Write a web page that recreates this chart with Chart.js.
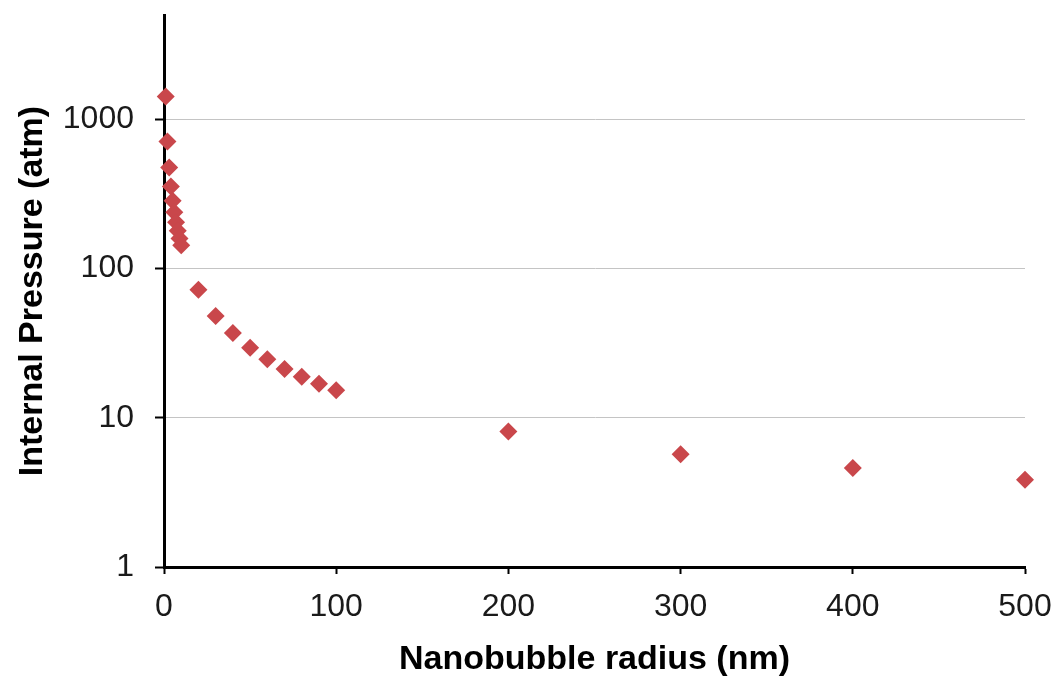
<!DOCTYPE html>
<html>
<head>
<meta charset="utf-8">
<script src="https://cdn.jsdelivr.net/npm/chart.js@4/dist/chart.umd.min.js"></script>
<style>
  html, body { margin: 0; padding: 0; background: #fff; }
  #wrap { width: 1059px; height: 677px; }
</style>
</head>
<body>
<div id="wrap"><canvas id="bubbleChart"></canvas></div>
<script>
// Nanobubble radius (nm) and internal pressure (atm)
const radius = [1, 2, 3, 4, 5, 6, 7, 8, 9, 10, 20, 30, 40, 50, 60, 70, 80, 90, 100, 200, 300, 400, 500];
const pressure = [1420, 710, 475, 355, 285, 238, 204, 179, 159, 143, 72, 48, 37, 29.5, 24.7, 21.2, 18.8, 16.9, 15.3, 8.1, 5.7, 4.6, 3.85];
const yTicks = [1, 10, 100, 1000];

const points = radius.map((r, i) => ({ x: r, y: pressure[i] }));
const fontFamily = '"Liberation Sans", Arial, Helvetica, sans-serif';

const ctx = document.getElementById('bubbleChart').getContext('2d');

const bubbleChart = new Chart(ctx, {
    type: 'scatter',
    data: {
        datasets: [{
            label: 'Internal Pressure',
            data: points,
            pointStyle: 'rectRot',
            pointRadius: 9,
            pointHoverRadius: 9,
            backgroundColor: '#c9474b',
            borderColor: '#c9474b',
            borderWidth: 0,
            clip: false
        }]
    },
    options: {
        responsive: true,
        maintainAspectRatio: false,
        animation: false,
        layout: {
            padding: { left: 0, top: 15, right: 34, bottom: 0 }
        },
        scales: {
            x: {
                type: 'linear',
                min: 0,
                max: 500,
                ticks: {
                    stepSize: 100,
                    color: '#1a1a1a',
                    padding: 14,
                    font: { family: fontFamily, size: 32 }
                },
                grid: {
                    drawOnChartArea: false,
                    tickColor: '#000',
                    tickLength: 7,
                    tickWidth: 2
                },
                border: { color: '#000', width: 3 },
                title: {
                    display: true,
                    text: 'Nanobubble radius (nm)',
                    color: '#000',
                    padding: { top: 0, bottom: 0 },
                    font: { family: fontFamily, size: 34, weight: 'bold', lineHeight: 1.0 }
                },
                afterFit: (scale) => {
                    scale.height = 110;
                    scale.paddingLeft = 0;
                    scale.paddingRight = 0;
                }
            },
            y: {
                type: 'logarithmic',
                min: 1,
                max: 5000,
                afterBuildTicks: (scale) => {
                    scale.ticks = yTicks.map(v => ({ value: v }));
                },
                ticks: {
                    color: '#1a1a1a',
                    padding: 21,
                    font: { family: fontFamily, size: 32 },
                    callback: (value) => String(value)
                },
                grid: {
                    color: '#c4c4c4',
                    lineWidth: 1,
                    tickColor: '#000',
                    tickLength: 9,
                    tickWidth: 2
                },
                border: { color: '#000', width: 3 },
                title: {
                    display: true,
                    text: 'Internal Pressure (atm)',
                    color: '#000',
                    padding: { top: 12, bottom: 0 },
                    font: { family: fontFamily, size: 34, weight: 'bold', lineHeight: 1.2 }
                },
                afterFit: (scale) => {
                    scale.width = 164;
                    scale.paddingTop = 0;
                    scale.paddingBottom = 0;
                }
            }
        },
        plugins: {
            legend: { display: false },
            tooltip: { enabled: false }
        }
    }
});
</script>
</body>
</html>
